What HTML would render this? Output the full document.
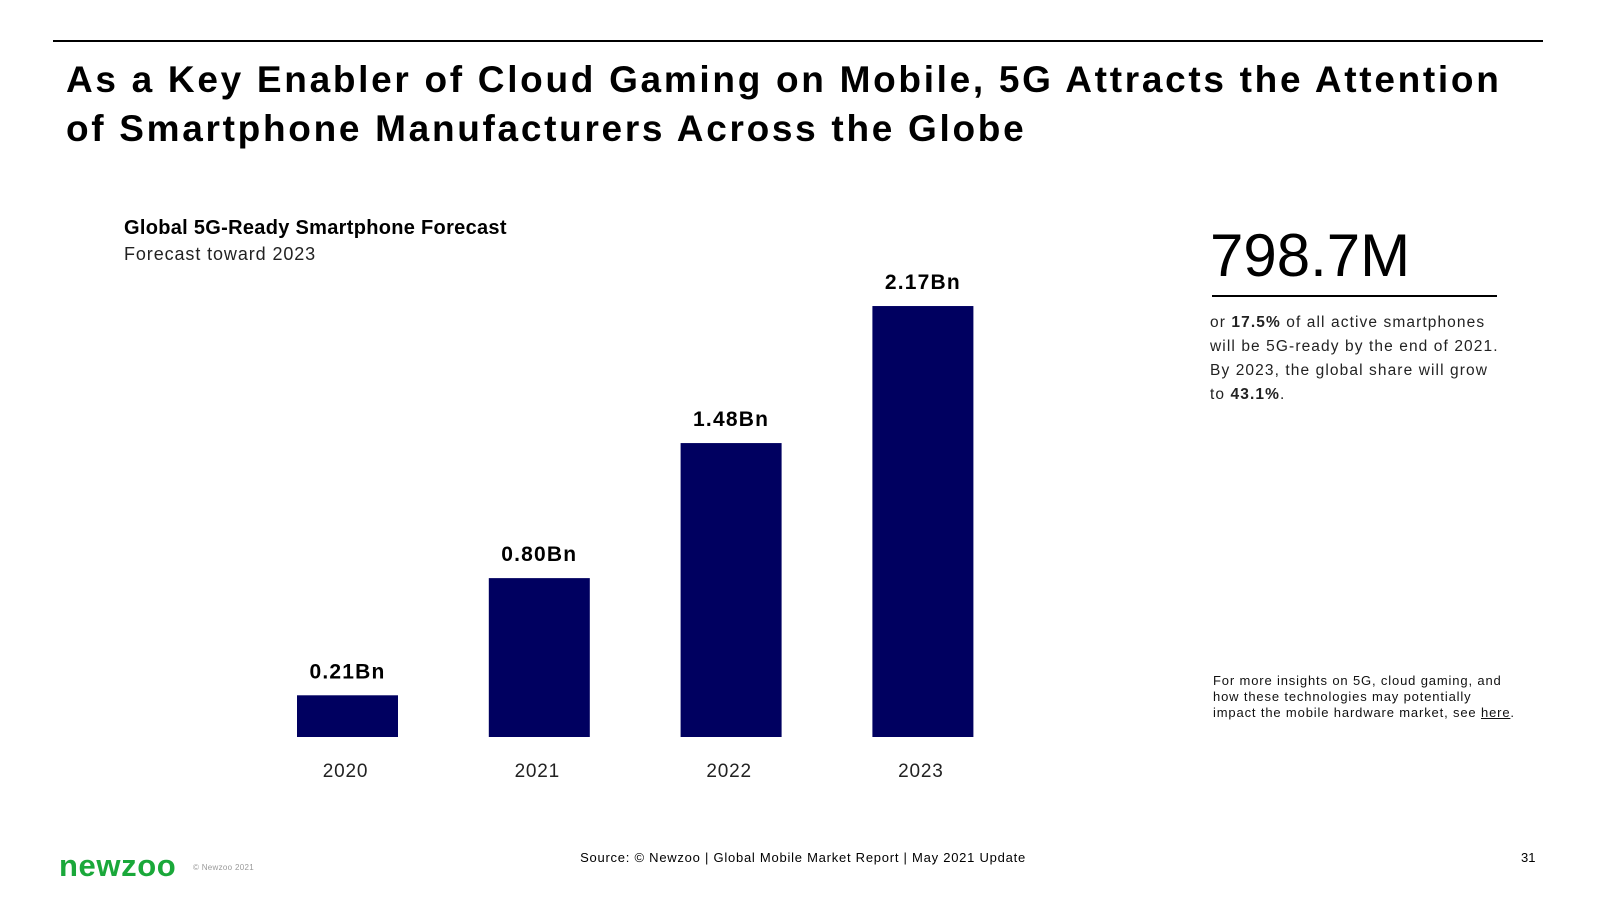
<!DOCTYPE html>
<html><head><meta charset="utf-8"><style>
body{margin:0;width:1600px;height:900px;background:#fff;font-family:"Liberation Sans",sans-serif;color:#000;position:relative;overflow:hidden}
.a{position:absolute;white-space:nowrap}
</style></head><body>
<div class="a" style="left:53px;top:40px;width:1490px;height:1.5px;background:#000"></div>
<div class="a" style="left:66px;top:55px;font-size:37px;line-height:49px;font-weight:bold;letter-spacing:2.7px">As a Key Enabler of Cloud Gaming on Mobile, 5G Attracts the Attention<br>of Smartphone Manufacturers Across the Globe</div>
<div class="a" style="left:124px;top:217px;font-size:20px;font-weight:bold;letter-spacing:0.3px">Global 5G-Ready Smartphone Forecast</div>
<div class="a" style="left:124px;top:244px;font-size:18px;color:#222;letter-spacing:0.9px">Forecast toward 2023</div>
<svg id="chart" class="a" style="left:0;top:0" width="1600" height="900"></svg>
<div class="a" style="left:1210px;top:226px;font-size:60px;line-height:60px">798.7M</div>
<div class="a" style="left:1212px;top:295px;width:285px;height:1.5px;background:#000"></div>
<div class="a" style="left:1210px;top:311px;font-size:15.5px;line-height:24px;color:#222;letter-spacing:1.1px">or <b>17.5%</b> of all active smartphones<br>will be 5G-ready by the end of 2021.<br>By 2023, the global share will grow<br>to <b>43.1%</b>.</div>
<div class="a" style="left:1213px;top:673px;font-size:13px;line-height:16px;color:#111;letter-spacing:0.85px">For more insights on 5G, cloud gaming, and<br>how these technologies may potentially<br>impact the mobile hardware market, see <span style="text-decoration:underline">here</span>.</div>
<div class="a" style="left:59px;top:850px;font-size:31px;line-height:32px;font-weight:bold;color:#1aa83a;letter-spacing:0.6px">newzoo</div>
<div class="a" style="left:193px;top:863px;font-size:8px;color:#999;letter-spacing:0.3px">© Newzoo 2021</div>
<div class="a" style="left:803px;top:850px;font-size:13px;letter-spacing:0.75px;transform:translateX(-50%)">Source: © Newzoo | Global Mobile Market Report | May 2021 Update</div>
<div class="a" style="left:1521px;top:850px;font-size:13px">31</div>
<script>
const categories=["2020","2021","2022","2023"];
const values=[0.21,0.80,1.48,2.17];
const valueLabels=["0.21Bn","0.80Bn","1.48Bn","2.17Bn"];
const svg=document.getElementById('chart');
const NS="http://www.w3.org/2000/svg";
const baseY=737, pxPer=198.6, x0=297, step=191.8, bw=101;
const xs=i=>x0+i*step;
const ys=v=>baseY-v*pxPer;
categories.forEach((c,i)=>{
  const r=document.createElementNS(NS,'rect');
  r.setAttribute('x',xs(i));r.setAttribute('y',ys(values[i]));
  r.setAttribute('width',bw);r.setAttribute('height',baseY-ys(values[i]));
  r.setAttribute('fill','#000060');
  
  
  svg.appendChild(r);
  const t=document.createElementNS(NS,'text');
  t.setAttribute('x',xs(i)+bw/2);t.setAttribute('y',ys(values[i])-17);
  t.setAttribute('text-anchor','middle');t.setAttribute('font-size','21');
  t.setAttribute('letter-spacing','1.2');
  t.setAttribute('font-weight','bold');t.setAttribute('font-family','Liberation Sans, sans-serif');
  t.textContent=valueLabels[i];
  
  
  svg.appendChild(t);
  const y=document.createElementNS(NS,'text');
  y.setAttribute('x',xs(i)+bw/2-2);y.setAttribute('y',777);
  y.setAttribute('text-anchor','middle');y.setAttribute('font-size','19');
  y.setAttribute('letter-spacing','0.8');
  y.setAttribute('fill','#222');y.setAttribute('font-family','Liberation Sans, sans-serif');
  y.textContent=c;
  
  
  svg.appendChild(y);
});
</script>
</body></html>
